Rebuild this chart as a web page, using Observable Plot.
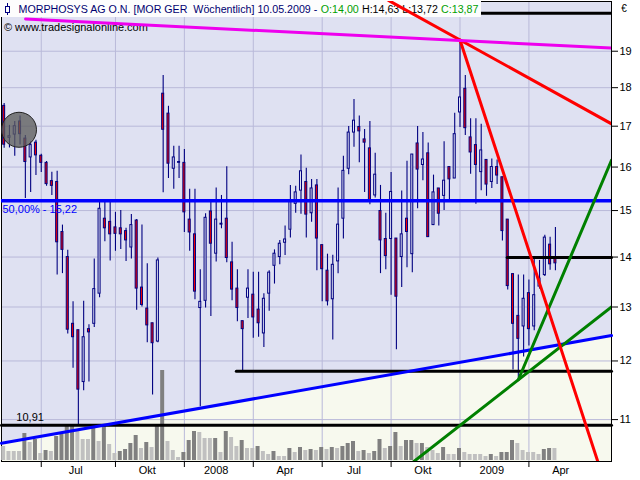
<!DOCTYPE html>
<html>
<head>
<meta charset="utf-8">
<script src="https://cdn.jsdelivr.net/npm/d3@7"></script>
<script src="https://cdn.jsdelivr.net/npm/@observablehq/plot@0.6"></script>
<style>
html,body{margin:0;padding:0;background:#fff;}
#chart{position:relative;width:640px;height:480px;overflow:hidden;}
#chart > svg{position:absolute;left:0;top:0;}
.pre{white-space:pre;}
</style>
</head>
<body>
<div id="chart"></div>
<script>
// ---- data (weekly, MORPHOSYS AG) ----
const firstWeek = "2007-05-07";
const openP  = [17.52,16.71,16.79,17.12,16.69,16.23,16.59,16.27,16.10,15.67,15.65,14.53,14.00,12.68,12.56,11.63,12.58,12.68,13.26,14.82,14.75,14.63,14.61,14.55,14.20,14.78,13.38,12.97,12.69,12.35,17.84,17.32,15.96,16.10,16.10,14.80,14.48,12.98,13.12,14.98,14.07,14.71,14.82,13.89,13.36,12.73,13.18,13.24,12.95,12.50,13.26,13.82,14.00,14.30,14.58,15.15,15.45,15.65,14.94,15.57,14.25,13.72,13.15,13.91,14.82,15.96,16.84,16.98,16.67,16.45,15.34,14.99,14.38,14.38,14.39,14.00,14.82,14.06,16.57,16.05,16.33,14.68,15.50,15.33,16.00,15.73,17.35,17.97,16.72,16.53,15.88,16.17,15.65,16.00,15.76,14.80,13.65,12.83,12.63,13.27,12.63,13.40,13.63,14.26,14.00];
const highP  = [17.58,17.02,17.12,17.26,16.77,16.61,16.65,16.31,16.13,15.88,15.90,14.68,14.14,13.10,12.56,13.11,12.66,13.96,15.19,15.19,15.20,14.96,15.00,14.61,14.91,14.80,14.68,13.86,12.69,13.98,18.33,17.51,16.50,16.50,16.42,15.48,15.48,13.74,14.93,15.18,15.51,15.34,16.01,14.31,13.74,12.73,13.74,13.69,13.69,13.26,13.72,14.15,14.35,14.66,15.57,15.55,16.29,15.97,15.71,15.71,14.25,14.06,14.04,15.51,16.26,16.99,17.69,17.26,16.92,17.12,16.33,15.57,14.94,15.87,14.39,15.44,16.14,16.30,16.99,16.84,16.58,15.81,15.50,16.61,16.00,17.33,19.30,18.33,17.19,17.19,17.05,16.17,16.19,16.17,15.76,14.80,13.65,13.63,13.63,13.53,13.98,13.93,14.46,14.42,14.63];
const lowP   = [16.45,16.46,16.26,16.53,15.27,15.41,15.80,15.87,15.55,15.34,13.63,13.66,12.49,11.87,10.91,11.48,11.63,12.61,13.18,14.32,13.92,14.12,14.16,13.91,13.96,12.94,13.00,12.33,11.41,12.33,15.40,15.73,15.48,15.73,14.52,14.12,13.14,11.21,12.98,12.82,13.90,14.60,13.88,13.12,12.72,11.81,12.78,12.41,12.43,12.24,12.92,13.45,13.84,14.03,14.40,14.94,14.92,14.40,14.74,13.72,13.10,13.02,12.38,13.66,14.38,15.82,16.48,16.10,15.41,15.13,15.28,13.66,13.74,13.23,12.20,13.38,13.78,13.68,15.04,15.68,14.41,14.67,14.66,15.00,15.23,15.73,16.97,16.77,15.83,15.14,15.45,15.32,15.50,15.59,14.34,13.33,11.84,11.70,12.07,12.27,12.55,13.35,13.60,13.73,13.72];
const closeP = [16.54,16.75,17.00,16.80,16.12,16.53,16.28,16.10,15.60,15.56,14.31,14.15,12.57,12.43,11.50,12.43,12.52,13.35,15.04,14.61,14.48,14.49,14.48,14.35,14.68,13.36,13.04,12.65,12.32,13.93,16.91,16.08,16.23,16.12,14.96,14.52,13.30,13.10,14.84,14.28,14.80,14.69,13.98,13.34,12.98,12.58,13.36,12.80,12.69,13.16,13.68,14.07,14.28,14.37,15.22,15.41,15.90,14.91,15.50,14.39,13.75,13.11,13.84,14.69,15.91,16.84,17.14,16.87,16.59,15.21,15.82,14.35,14.02,15.42,13.20,14.48,14.53,16.30,15.94,16.18,14.42,15.41,14.93,15.68,15.71,16.80,17.74,16.95,16.35,16.05,16.40,15.59,16.00,15.80,14.55,13.41,12.68,12.40,13.16,12.58,13.23,13.56,14.41,13.85,13.87];
const volume = [140,90,90,90,270,180,210,70,100,90,240,260,360,360,290,210,210,330,190,340,160,70,90,110,170,250,120,180,130,350,900,190,100,30,80,200,290,280,220,220,220,80,290,230,140,200,120,120,140,90,60,90,40,40,120,80,130,100,110,100,130,110,130,120,140,170,190,90,100,70,90,210,120,140,280,140,200,200,170,170,130,100,70,130,60,60,120,80,60,60,60,40,60,40,80,80,200,170,100,80,80,60,110,120,120];
const volTone = "lllldldldl"+"ddddllldld"+"llddddldld"+"dllldddlll"+"dldlldlldl"+"ldlldldldl"+"dldldddldl"+"ddlddlddld"+"llldlldlll"+"lldldddlll"+"llddl";

const yTicks = [11,12,13,14,15,16,17,18,19];
const quarterStarts = ["2007-06-25","2007-10-01","2007-12-31","2008-03-31","2008-06-30","2008-09-29","2008-12-29","2009-03-30"];
const quarterLabels = ["Jul","Okt","2008","Apr","Jul","Okt","2009","Apr"];
const labelDates = ["2007-08-09T12:00Z","2007-11-12","2008-02-11","2008-05-12","2008-08-11","2008-11-10","2009-02-09","2009-05-11"];
const headerParts = [
  {text: "MORPHOSYS AG O.N. [MOR GER  W\u00f6chentlich] 10.05.2009 -", color: "#000070"},
  {text: "O:14,00", color: "#00a000"},
  {text: "H:14,63 L:13,72", color: "#000000"},
  {text: "C:13,87", color: "#00a000"}
];
const sourceText = "\u00a9 www.tradesignalonline.com";

// drawing tools (week index, price)
const fibLevel = 15.22;          // "50,00% - 15,22"
const supportLevels = [{w0:-0.5, p:10.91}, {w0:43.8, p:11.82}, {w0:94.9, p:13.99}];
const topLevel = 20.10;
const blueTrend = [{w:-0.5, p:10.62}, {w:114.58, p:12.46}];
const magentaTrend = [{w:4.04, p:19.93}, {w:114.58, p:19.09}];
const redShallow = [{w:72.5, p:20.49}, {w:114.58, p:17.06}];
const redSteep = [{w:86, p:19.32}, {w:113, p:10.09}];
const greenSteep = [{w:97, p:11.67}, {w:114.58, p:16.16}];
const greenShallow = [{w:74.8, p:10.18}, {w:114.58, p:13.00}];
const marker = [{w:2.8, p:16.91}];

// ---- build ----
const DAY = 864e5;
const wk = i => new Date(Date.parse(firstWeek) + i * 7 * DAY);
const rows = openP.map((o, i) => ({date: wk(i), o, h: highP[i], l: lowP[i], c: closeP[i], v: volume[i], tone: volTone[i]}));
const toPts = arr => arr.map(d => ({date: wk(d.w), p: d.p}));

const FONT = '"Liberation Sans", Arial, sans-serif';
const base = {
  width: 640, height: 480, marginLeft: 1, marginRight: 29, marginTop: 1, marginBottom: 19,
  style: {background: "transparent", fontFamily: FONT, fontSize: "11px", color: "#000", overflow: "visible"}
};
const xDomain = [wk(-0.5), wk(114.58)];
const yDomain = [10.337, 20.455];
const qDates = quarterStarts.map(d => new Date(d));
const qLab = quarterLabels.map((t, i) => ({date: new Date(labelDates[i]), label: t}));
const GRID = "#b9b9d9";

const layerA = Plot.plot({
  ...base,
  x: {type: "utc", domain: xDomain, axis: "bottom", ticks: qDates, tickFormat: () => "", tickSize: 6, label: null},
  y: {type: "log", domain: yDomain, axis: "right", ticks: yTicks, tickFormat: d => `${d}`, tickSize: 6, tickPadding: 2, label: null},
  marks: [
    Plot.frame({fill: "#dfe1f2"}),
    Plot.areaY(toPts(blueTrend), {x: "date", y1: yDomain[0], y2: "p", fill: "#f7f9ee"}),
    Plot.ruleY(yTicks, {stroke: GRID}),
    Plot.ruleX(qDates, {stroke: GRID}),
    Plot.ruleY([topLevel], {stroke: "#000", strokeWidth: 3}),
    Plot.frame({stroke: "#000"}),
    Plot.text(qLab, {x: "date", text: "label", frameAnchor: "bottom", dy: 12, fill: "#000"})
  ]
});

const layerB = Plot.plot({
  ...base,
  x: {type: "utc", domain: xDomain, axis: null},
  y: {type: "linear", domain: [0, 900], range: [460, 370], axis: null},
  marks: [
    Plot.ruleX(rows.filter(d => d.tone === "d"), {x: "date", y1: 0, y2: "v", stroke: "#808080", strokeWidth: 4, dx: -1}),
    Plot.ruleX(rows.filter(d => d.tone === "l"), {x: "date", y1: 0, y2: "v", stroke: "#c0c0c0", strokeWidth: 4, dx: -1})
  ]
});

// header layer
const hdr = d3.create("svg").attr("width", 640).attr("height", 480);
hdr.append("rect").attr("x", 0).attr("y", 0).attr("width", 481).attr("height", 17).attr("fill", "#fdfdfd");
hdr.append("line").attr("x1", 7.5).attr("x2", 7.5).attr("y1", 3).attr("y2", 15).attr("stroke", "#000080");
hdr.append("rect").attr("x", 5.5).attr("y", 6.5).attr("width", 4).attr("height", 6).attr("fill", "#fff").attr("stroke", "#000080");
const hg = hdr.append("g");
const t2 = hdr.append("text").attr("x", 4).attr("y", 31).attr("font-family", FONT).attr("font-size", 11)
  .attr("fill", "#000").text(sourceText);
hdr.append("text").attr("x", 624).attr("y", 12).attr("text-anchor", "middle").attr("font-family", FONT).attr("font-size", 10)
  .attr("fill", "#000").text("\u20ac");

const half = 32 * 3600 * 1000; // half body width (~1px)
const downs = rows.filter(d => d.c < d.o), ups = rows.filter(d => d.c >= d.o);
const NAVY = "#000080";
const layerD = Plot.plot({
  ...base,
  x: {type: "utc", domain: xDomain, axis: null},
  y: {type: "log", domain: yDomain, axis: null},
  marks: [
    Plot.ruleX(rows, {x: "date", y1: "l", y2: "h", stroke: NAVY, strokeWidth: 1.1}),
    Plot.rect(downs, {x1: d => new Date(+d.date - half), x2: d => new Date(+d.date + half), y1: "o", y2: "c", fill: "#f00000", stroke: NAVY}),
    Plot.rect(ups, {x1: d => new Date(+d.date - half), x2: d => new Date(+d.date + half), y1: "o", y2: "c", fill: "#dfe1f2", stroke: NAVY}),
    ...supportLevels.map(s => Plot.line([{date: wk(s.w0), p: s.p}, {date: wk(114.58), p: s.p}], {x: "date", y: "p", stroke: "#000", strokeWidth: 3})),
    Plot.ruleY([fibLevel], {stroke: "#0000ff", strokeWidth: 3.3}),
    Plot.line(toPts(blueTrend), {x: "date", y: "p", stroke: "#0000ff", strokeWidth: 3}),
    Plot.line(toPts(greenSteep), {x: "date", y: "p", stroke: "#008000", strokeWidth: 3, clip: true}),
    Plot.line(toPts(greenShallow), {x: "date", y: "p", stroke: "#008000", strokeWidth: 3, clip: true}),
    Plot.line(toPts(redShallow), {x: "date", y: "p", stroke: "#ff0000", strokeWidth: 3, clip: true}),
    Plot.line(toPts(redSteep), {x: "date", y: "p", stroke: "#ff0000", strokeWidth: 3, clip: true}),
    Plot.line(toPts(magentaTrend), {x: "date", y: "p", stroke: "#ee00ee", strokeWidth: 3, clip: true}),
    Plot.dot(toPts(marker), {x: "date", y: "p", r: 17.5, fill: "#5c5c5c", fillOpacity: 0.78, stroke: "#222", strokeWidth: 1}),
    Plot.text([`50,00% - ${String(fibLevel).replace(".", ",")}`], {x: xDomain[0], y: fibLevel, dy: 9, dx: 1, textAnchor: "start", fill: "#0000ff", fontSize: 11}),
    Plot.text([String(supportLevels[0].p).replace(".", ",")], {x: wk(4.9), y: supportLevels[0].p, dy: -8, textAnchor: "middle", fill: "#000", fontSize: 11})
  ]
});

const chart = document.getElementById("chart");
chart.append(layerA, layerB, hdr.node(), layerD);

// lay out the coloured header pieces one after another, then fit to the original width
let cx = 0;
const SPACE = 3.2;
headerParts.forEach((part) => {
  const t = hg.append("text").attr("class", "pre").attr("xml:space", "preserve")
    .attr("x", cx).attr("y", 13).attr("font-family", FONT).attr("font-size", 11)
    .attr("fill", part.color).text(part.text);
  const w = t.node().getComputedTextLength();
  cx += w + SPACE;
});
const natural = cx - SPACE;
const sx = natural > 0 ? 460 / natural : 1;
hg.attr("transform", `translate(18.5,0) scale(${sx},1)`);
const w2 = t2.node().getComputedTextLength();
if (w2 > 0) t2.attr("transform", `translate(4,0) scale(${144 / w2},1) translate(-4,0)`);
</script>
</body>
</html>
